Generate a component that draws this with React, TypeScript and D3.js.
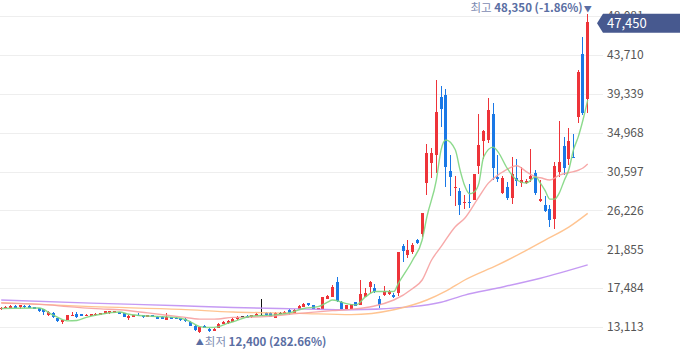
import React from 'react';
import * as d3 from 'd3';

// daily candles, oldest first
const opens = [
  15100, 15250, 15300, 15500, 15350, 15500, 15500, 15350, 15250, 15100,
  14450, 14700, 14100, 13650, 13900, 14400, 14550, 14550, 14450, 14400,
  14450, 14500, 14600, 14650, 14700, 14800, 14650, 14150, 14250, 14500,
  14450, 14250, 14450, 14250, 14250, 13950, 14200, 14150, 14100, 14050,
  13700, 13250, 12550, 13250, 12900, 12700, 13050, 13500, 13550, 13700,
  14000, 14300, 14400, 14200, 14350, 14500, 14700, 14700, 14150, 14700,
  14600, 15050, 14700, 15150, 15400, 15800, 15550, 15050, 15150, 16300,
  16500, 18200, 15950, 15100, 15100, 15900, 15600, 16500, 17600, 17450,
  16250, 16700, 16800, 16700, 16950, 22250, 21200, 21550, 22850, 23600,
  29300, 31600, 32450, 38950, 39200, 30650, 28700, 28450, 27100, 27200,
  27400, 31200, 34050, 34150, 37050, 30000, 28150, 28900, 27600, 29900,
  29350, 29300, 29750, 30450, 27250, 26850, 26350, 25250, 30600, 33500,
  32000, 32250, 36700, 43800, 38750,
];
const closes = [
  15300, 15350, 15500, 15300, 15550, 15350, 15300, 15150, 14950, 14800,
  14850, 14200, 13750, 13850, 14450, 14500, 14200, 14350, 14500, 14550,
  14600, 14650, 14900, 14900, 14900, 14600, 14250, 14400, 14450, 14400,
  14200, 14450, 14250, 14050, 14050, 14250, 14050, 14100, 13850, 13750,
  13250, 12750, 13100, 13000, 12700, 12900, 13500, 13700, 13800, 14050,
  14250, 14300, 14150, 14450, 14600, 14500, 14450, 14250, 14700, 14700,
  14850, 14650, 15050, 15500, 15750, 15550, 15150, 15250, 16450, 16650,
  17650, 16050, 15100, 15550, 15700, 15500, 16850, 16950, 18150, 17100,
  15550, 17150, 17200, 16500, 21500, 21700, 21750, 22350, 22600, 25900,
  32650, 32700, 37250, 37600, 31100, 30000, 28900, 26850, 27200, 27050,
  30300, 33600, 35150, 37500, 30950, 29750, 29850, 27600, 30300, 29550,
  29650, 29550, 30100, 28150, 27500, 26200, 25150, 31200, 31700, 30950,
  34050, 32150, 41850, 37150, 47450,
];
const highs = [
  15350, 15450, 15550, 15550, 15600, 15600, 15550, 15400, 15300, 15150,
  14900, 14750, 14150, 13900, 14500, 14750, 14800, 14600, 14550, 14600,
  14650, 14700, 14950, 14950, 14950, 14850, 14700, 14450, 14500, 14700,
  14500, 14500, 14500, 14300, 14300, 14650, 14250, 14200, 14150, 14100,
  13750, 13300, 13150, 13300, 12950, 12950, 13550, 13750, 13850, 14100,
  14300, 14400, 14450, 14500, 14650, 16250, 14750, 14750, 14750, 14800,
  14900, 15100, 15100, 15550, 15800, 15850, 15600, 15300, 16500, 16700,
  17850, 18700, 16000, 15600, 15750, 15950, 18400, 17500, 18300, 17950,
  16600, 17700, 17250, 16950, 21550, 22450, 22900, 22550, 23000, 25950,
  33700, 33200, 40900, 40250, 39850, 32450, 30100, 28750, 28000, 29150,
  30350, 37050, 35250, 38900, 38300, 32450, 30100, 29450, 32200, 32000,
  31100, 29750, 33150, 30800, 29650, 27850, 26850, 31700, 36300, 34450,
  35550, 34800, 42000, 45700, 48350,
];
const lows = [
  15000, 15200, 15250, 15250, 15100, 15300, 15250, 15100, 14800, 14450,
  14400, 14150, 13650, 13450, 13850, 14350, 14150, 14300, 14400, 14350,
  14400, 14450, 14550, 14600, 14650, 14550, 14200, 13950, 14200, 14350,
  14150, 14200, 14200, 14000, 14000, 13900, 14000, 14050, 13800, 13700,
  13200, 12700, 12400, 12950, 12550, 12650, 13000, 13450, 13500, 13650,
  13950, 14200, 14100, 14150, 14300, 14450, 14400, 14200, 14100, 14600,
  14550, 14500, 14650, 15100, 15350, 15500, 15100, 15000, 15100, 16250,
  16450, 15900, 15050, 15050, 15050, 15450, 15550, 16450, 16950, 16950,
  15250, 16600, 16750, 16400, 16600, 20400, 20900, 21350, 22500, 23250,
  27950, 29900, 30400, 35650, 28900, 27850, 26700, 25700, 26350, 26550,
  27350, 30300, 32000, 33800, 29650, 29450, 28050, 27400, 26950, 29000,
  28900, 29200, 29450, 27950, 27200, 26100, 24350, 24100, 30000, 30200,
  31350, 32100, 36050, 36950, 37200,
];

// moving averages at these candle positions
const ma5Idx = [0, 8, 11, 14, 16, 18, 21, 25, 27, 31, 35, 38, 40, 42, 44, 46, 48, 49, 53, 57, 61, 64, 67, 69, 70, 72, 73, 75, 77, 79, 83, 84, 87, 89, 90, 92, 93, 94, 96, 97, 98, 99, 100, 101, 102, 104, 105, 107, 109, 111, 113, 114, 115, 116, 117, 118, 119, 120, 121, 122, 123, 124];
const ma5 = [15200, 15250, 14450, 13800, 13850, 14200, 14550, 14800, 14550, 14350, 14250, 14100, 13700, 13150, 13050, 13150, 13550, 13700, 14350, 14450, 14700, 15200, 15400, 15900, 16150, 15900, 15750, 15600, 16500, 17100, 17100, 18050, 20650, 22900, 25500, 29650, 33050, 34150, 33050, 30800, 29000, 28100, 28300, 29300, 32250, 33350, 32850, 30950, 29650, 29300, 30000, 29300, 28450, 27500, 27500, 28200, 29550, 30800, 33050, 34500, 36400, 38650];
const ma20Idx = [0, 10, 14, 21, 25, 31, 38, 42, 45, 49, 55, 63, 70, 74, 83, 87, 89, 91, 93, 96, 98, 101, 103, 105, 106, 109, 111, 113, 114, 116, 118, 121, 122, 123, 124];
const ma20 = [15800, 15600, 15400, 15150, 15050, 14700, 14250, 14000, 14000, 14200, 14250, 14650, 14950, 15100, 16150, 17450, 18400, 20650, 22150, 24400, 25350, 27750, 29300, 30200, 30550, 31250, 30600, 30000, 29900, 29650, 30200, 30600, 30750, 31000, 31450];
const ma60Idx = [0, 19, 38, 49, 63, 74, 83, 90, 94, 98, 105, 110, 115, 120, 124];
const ma60 = [15850, 15400, 15100, 14800, 14650, 14500, 15050, 16150, 17150, 18400, 20100, 21450, 22900, 24350, 25900];
const ma120Idx = [0, 19, 38, 49, 63, 74, 87, 93, 98, 105, 114, 124];
const ma120 = [16150, 15800, 15500, 15300, 15150, 15050, 15400, 15900, 16700, 17500, 18600, 20100];

const yTicks = [13113, 17484, 21855, 26226, 30597, 34968, 39339, 43710, 48081];

const maxText = '최고';
const maxPrice = 48350;
const maxPct = '(-1.86%)';
const minText = '최저';
const minPrice = 12400;
const minPct = '(282.66%)';

const RED = '#ee3339';
const BLUE = '#1a78e6';
const LABEL_BLUE = '#5a6ea3';

export default function App() {
  const width = 680;
  const height = 358;
  const n = closes.length;
  const x = d3.scaleLinear().domain([0, n - 1]).range([1.2, 587.7]);
  const y = d3.scaleLinear().domain([yTicks[0], yTicks[yTicks.length - 1]]).range([327, 16.2]);
  const fmt = d3.format(',');

  const maLine = d3.line<[number, number]>()
    .x(d => x(d[0]))
    .y(d => y(d[1]))
    .curve(d3.curveMonotoneX);
  const mas = [
    { idx: ma120Idx, vals: ma120, color: '#bf8ff2' },
    { idx: ma60Idx, vals: ma60, color: '#ffbe85' },
    { idx: ma20Idx, vals: ma20, color: '#f6a0a0' },
    { idx: ma5Idx, vals: ma5, color: '#7fd67f' },
  ];

  const maxI = highs.indexOf(maxPrice);
  const minI = lows.indexOf(minPrice);
  const last = closes[n - 1];
  const tagY = y(last) + 1.5;
  const font = "'Noto Sans CJK KR', 'Noto Sans', sans-serif";

  return (
    <svg width={width} height={height} style={{ position: 'absolute', left: 0, top: 0, background: '#fff' }}>
      <g>
        {yTicks.map(t => (
          <line key={t} x1={0} x2={603} y1={Math.round(y(t)) + 0.5} y2={Math.round(y(t)) + 0.5} stroke="#eeeeee" />
        ))}
      </g>
      <g shapeRendering="crispEdges">
        {closes.map((c, i) => {
          const o = opens[i];
          const color = c > o ? RED : c < o ? BLUE : '#111';
          const cx = x(i);
          const top = y(Math.max(o, c));
          const h = Math.max(1, Math.abs(y(o) - y(c)));
          return (
            <g key={i}>
              <line x1={cx} x2={cx} y1={y(highs[i])} y2={y(lows[i])} stroke={color} strokeWidth={1} />
              <rect x={cx - 1.5} y={top} width={3} height={h} fill={color} />
            </g>
          );
        })}
      </g>
      <g fill="none">
        {mas.map((m, k) => (
          <path key={k} d={maLine(m.idx.map((i, j) => [i, m.vals[j]] as [number, number])) || ''}
            stroke={m.color} strokeWidth={1.4} strokeOpacity={0.9} />
        ))}
      </g>
      <g fontFamily={font} fontSize={12} fill="#555">
        {yTicks.map(t => (
          <text key={t} x={607} y={y(t)} dy="0.35em">{fmt(t)}</text>
        ))}
      </g>
      <g>
        <path d={`M597,${tagY} L603,${tagY - 9.5} L680,${tagY - 9.5} L680,${tagY + 9.5} L603,${tagY + 9.5} Z`} fill="#47598f" />
        <text x={607} y={tagY} dy="0.36em" fill="#fff" fontFamily={font} fontSize={13}>{fmt(last)}</text>
      </g>
      <g fontFamily={font} fontSize={11.5} fill={LABEL_BLUE}>
        <text x={x(maxI) - 5} y={y(maxPrice) - 2} textAnchor="end">
          <tspan fill="#7d8bb2">{maxText} </tspan>
          <tspan fontWeight={600}>{fmt(maxPrice)} {maxPct}</tspan>
        </text>
        <text x={x(maxI)} y={y(maxPrice) - 2} textAnchor="middle" fontSize={8}>▼</text>
        <text x={x(minI)} y={y(minPrice) + 12} textAnchor="middle" fontSize={8}>▲</text>
        <text x={x(minI) + 5} y={y(minPrice) + 12.5}>
          <tspan fill="#7d8bb2">{minText} </tspan>
          <tspan fontWeight={600}>{fmt(minPrice)} {minPct}</tspan>
        </text>
      </g>
    </svg>
  );
}
